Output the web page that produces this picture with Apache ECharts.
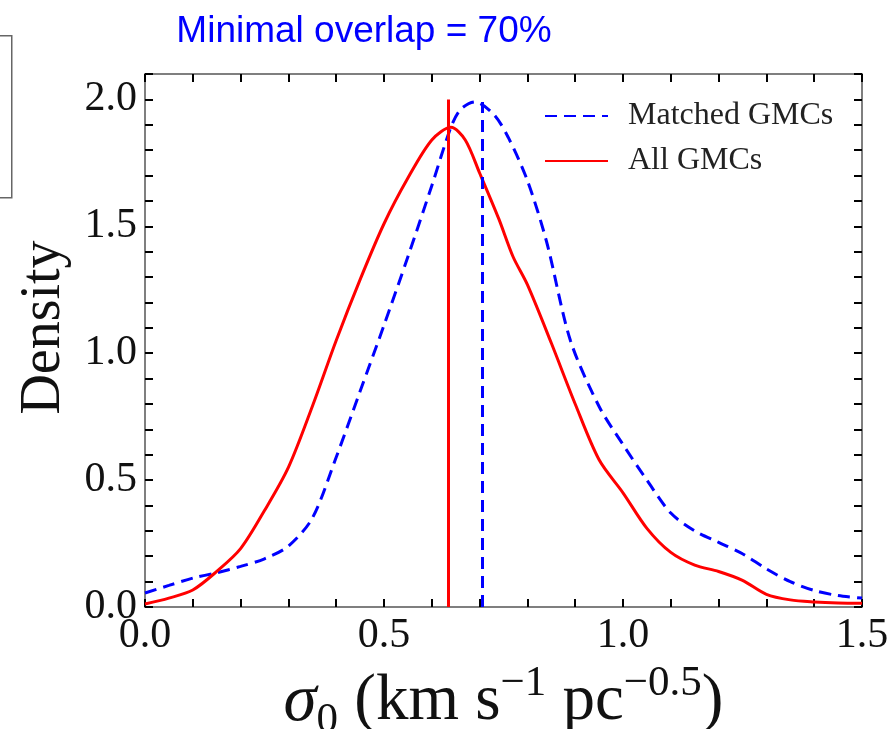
<!DOCTYPE html>
<html>
<head>
<meta charset="utf-8">
<script src="https://cdn.jsdelivr.net/npm/echarts@6/dist/echarts.min.js"></script>
<style>html,body{margin:0;padding:0;background:#fff}#c{width:891px;height:729px}</style>
</head>
<body>
<div id="c"></div>
<script>
// ---- data ----
const titleText = 'Minimal overlap = 70%';
const seriesNames = ['Matched GMCs', 'All GMCs'];
const sigmaMatched = [0.00,0.05,0.10,0.15,0.20,0.25,0.30,0.35,0.40,0.45,0.50,0.55,0.60,0.64,0.66,0.69,0.73,0.76,0.80,0.84,0.89,0.95,1.00,1.05,1.10,1.15,1.20,1.25,1.30,1.35,1.40,1.45,1.50];
const densityMatched = [0.055,0.085,0.114,0.135,0.16,0.19,0.24,0.35,0.59,0.85,1.11,1.38,1.66,1.89,1.96,1.99,1.94,1.85,1.68,1.44,1.05,0.79,0.64,0.50,0.37,0.30,0.255,0.21,0.15,0.10,0.065,0.045,0.035];
const sigmaAll = [0.00,0.05,0.10,0.15,0.20,0.25,0.30,0.35,0.40,0.45,0.50,0.55,0.60,0.64,0.67,0.70,0.74,0.77,0.80,0.85,0.90,0.95,1.00,1.05,1.10,1.15,1.20,1.25,1.30,1.35,1.40,1.45,1.50];
const densityAll = [0.012,0.035,0.067,0.14,0.23,0.38,0.55,0.79,1.05,1.29,1.51,1.69,1.84,1.89,1.84,1.71,1.53,1.38,1.27,1.04,0.80,0.58,0.45,0.31,0.215,0.165,0.14,0.105,0.05,0.028,0.02,0.016,0.015];
const medianMatched = [0.705, 1.99];   // [x, top of line]
const medianAll = [0.634, 2.0];
const xRange = [0, 1.5];
const yRange = [0, 2.1];

const serif = 'Liberation Serif';
const blue = '#0000ff', red = '#ff0000';

function pairs(xs, ys) { return xs.map((x, i) => [x, ys[i]]); }
function halfLabel(v) {
  return Math.abs(v * 2 - Math.round(v * 2)) < 1e-6 ? v.toFixed(1) : '';
}
function tickStyle() { return { show: true, inside: true, length: 8, lineStyle: { color: '#000', width: 2 } }; }
function frameLine() { return { show: true, onZero: false, lineStyle: { color: '#555', width: 1.5 } }; }

const chart = echarts.init(document.getElementById('c'), null, { renderer: 'canvas' });
chart.setOption({
  animation: false,
  backgroundColor: '#fff',
  title: {
    text: titleText, left: 359, top: 8, textAlign: 'center',
    textStyle: { color: blue, fontFamily: 'Liberation Sans', fontSize: 37, fontWeight: 'normal' }
  },
  legend: {
    orient: 'vertical', left: 539, top: 95, itemWidth: 63, itemHeight: 14, itemGap: 13,
    data: seriesNames,
    itemStyle: { opacity: 0 },
    textStyle: { fontFamily: serif, fontSize: 32, color: '#222', padding: [0, 0, 0, 15] }
  },
  grid: { left: 145, right: 29, top: 74, bottom: 122, containLabel: false, outerBoundsMode: 'none' },
  xAxis: [{
    type: 'value', min: xRange[0], max: xRange[1], interval: 0.1,
    axisLine: frameLine(), axisTick: tickStyle(), splitLine: { show: false },
    axisLabel: { formatter: halfLabel, fontFamily: serif, fontSize: 42, color: '#111', margin: 8, showMinLabel: true, showMaxLabel: true },
    name: '{i|σ}{sub|0} (km s{sup|−1} pc{sup|−0.5})',
    nameLocation: 'middle', nameGap: 54,
    nameTextStyle: {
      fontFamily: serif, fontSize: 65, color: '#111', lineHeight: 80,
      rich: {
        i: { fontFamily: serif, fontStyle: 'italic', fontSize: 67, color: '#111', lineHeight: 80 },
        sub: { fontFamily: serif, fontSize: 43, color: '#111', verticalAlign: 'bottom', lineHeight: 44 },
        sup: { fontFamily: serif, fontSize: 43, color: '#111', verticalAlign: 'top', lineHeight: 44 }
      }
    }
  }, {
    type: 'value', position: 'top', min: xRange[0], max: xRange[1], interval: 0.1,
    axisLine: frameLine(), axisTick: tickStyle(), splitLine: { show: false }, axisLabel: { show: false }
  }],
  yAxis: [{
    type: 'value', min: yRange[0], max: yRange[1], interval: 0.1,
    axisLine: frameLine(), axisTick: tickStyle(), splitLine: { show: false },
    axisLabel: { formatter: halfLabel, fontFamily: serif, fontSize: 42, color: '#111', margin: 8, showMinLabel: true },
    name: 'Density', nameLocation: 'middle', nameGap: 73, nameRotate: 90,
    nameTextStyle: { fontFamily: serif, fontSize: 56, color: '#111', padding: [0, 0, 0, 26] }
  }, {
    type: 'value', position: 'right', min: yRange[0], max: yRange[1], interval: 0.1,
    axisLine: frameLine(), axisTick: tickStyle(), splitLine: { show: false }, axisLabel: { show: false }
  }],
  graphic: [{
    type: 'rect', left: -20, top: 35, silent: true,
    shape: { width: 31, height: 162 },
    style: { fill: '#fff', stroke: '#666', lineWidth: 1.5 }
  }],
  series: [{
    name: seriesNames[0], type: 'line', smooth: 0.3, symbol: 'none',
    data: pairs(sigmaMatched, densityMatched),
    lineStyle: { color: blue, width: 3, type: [12, 7] }, itemStyle: { color: blue },
    markLine: {
      silent: true, symbol: 'none', label: { show: false },
      lineStyle: { color: blue, width: 3, type: [12, 7] },
      data: [[{ coord: [medianMatched[0], 0] }, { coord: [medianMatched[0], medianMatched[1]] }]]
    }
  }, {
    name: seriesNames[1], type: 'line', smooth: 0.3, symbol: 'none',
    data: pairs(sigmaAll, densityAll),
    lineStyle: { color: red, width: 3, type: 'solid' }, itemStyle: { color: red },
    markLine: {
      silent: true, symbol: 'none', label: { show: false },
      lineStyle: { color: red, width: 3, type: 'solid' },
      data: [[{ coord: [medianAll[0], 0] }, { coord: [medianAll[0], medianAll[1]] }]]
    }
  }]
});
</script>
</body>
</html>
